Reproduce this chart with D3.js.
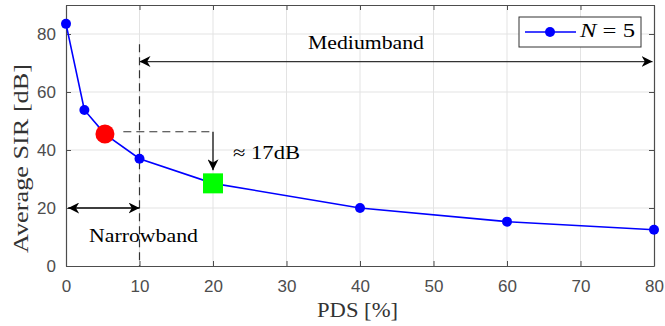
<!DOCTYPE html>
<html>
<head>
<meta charset="utf-8">
<script src="https://cdn.jsdelivr.net/npm/d3@7"></script>
<style>
  body { margin: 0; background: #fff; }
  svg { display: block; }
</style>
</head>
<body>
<svg id="chart" width="665" height="326"></svg>
<script>
const serif = "'Liberation Serif', 'DejaVu Serif', serif";
const sans = "'Liberation Sans', Arial, sans-serif";

// PDS [%] vs average SIR [dB], N = 5
const pds = [0, 2.5, 5.3, 10, 20, 40, 60, 80];
const sir = [83.5, 53.8, 45.5, 37, 28.5, 20, 15.3, 12.5];
const xTicks = [0, 10, 20, 30, 40, 50, 60, 70, 80];
const yTicks = [0, 20, 40, 60, 80];

// highlighted points
const redPoint = [5.3, 45.5];
const greenPoint = [20, 28.5];

const width = 665, height = 326;
const margin = {top: 5, right: 11, bottom: 60, left: 66};
const svg = d3.select("#chart");

const x = d3.scaleLinear().domain([0, 80]).range([margin.left, width - margin.right]);
const y = d3.scaleLinear().domain([0, 90]).range([height - margin.bottom, margin.top]);

const x0 = x(0), x1 = x(80), y0 = y(0), y1 = y(90);

// grid
svg.append("g").selectAll("line.gx")
  .data(xTicks.slice(1, -1))
  .enter().append("line")
  .attr("x1", d => x(d)).attr("x2", d => x(d))
  .attr("y1", y0).attr("y2", y1)
  .attr("stroke", "#e3e3e3").attr("stroke-width", 1);

svg.append("g").selectAll("line.gy")
  .data(yTicks.slice(1))
  .enter().append("line")
  .attr("x1", x0).attr("x2", x1)
  .attr("y1", d => y(d)).attr("y2", d => y(d))
  .attr("stroke", "#e3e3e3").attr("stroke-width", 1);

// axes (ticks inward)
const xAxis = svg.append("g")
  .attr("transform", `translate(0,${y0})`)
  .call(d3.axisBottom(x).tickValues(xTicks).tickSizeInner(-5).tickSizeOuter(0).tickPadding(14));
const xAxisTop = svg.append("g")
  .attr("transform", `translate(0,${y1})`)
  .call(d3.axisTop(x).tickValues(xTicks).tickSizeInner(-5).tickSizeOuter(0).tickFormat(""));
const yAxis = svg.append("g")
  .attr("transform", `translate(${x0},0)`)
  .call(d3.axisLeft(y).tickValues(yTicks).tickSizeInner(-5).tickSizeOuter(0).tickPadding(10));
const yAxisRight = svg.append("g")
  .attr("transform", `translate(${x1},0)`)
  .call(d3.axisRight(y).tickValues(yTicks).tickSizeInner(-5).tickSizeOuter(0).tickFormat(""));

[xAxis, xAxisTop, yAxis, yAxisRight].forEach(g => {
  g.select(".domain").attr("stroke", "#4d4d4d").attr("stroke-width", 1.2);
  g.selectAll(".tick line").attr("stroke", "#4d4d4d");
  g.selectAll(".tick text")
    .attr("font-family", sans)
    .attr("font-size", "17px")
    .attr("fill", "#4d4d4d");
});

// arrowhead marker
const defs = svg.append("defs");
defs.append("marker")
  .attr("id", "arrow")
  .attr("viewBox", "0 0 10 10")
  .attr("refX", 10).attr("refY", 5)
  .attr("markerWidth", 11).attr("markerHeight", 11)
  .attr("markerUnits", "userSpaceOnUse")
  .attr("orient", "auto-start-reverse")
  .append("path")
  .attr("d", "M0,0 L10,5 L0,10 L3,5 Z")
  .attr("fill", "#000");

// annotations: dashed guides
svg.append("line")
  .attr("x1", x(10)).attr("x2", x(10))
  .attr("y1", y(76.5)).attr("y2", y0)
  .attr("stroke", "#333").attr("stroke-width", 1.2)
  .attr("stroke-dasharray", "8,5");

svg.append("line")
  .attr("x1", x(7.8)).attr("x2", x(20))
  .attr("y1", y(46.3)).attr("y2", y(46.3))
  .attr("stroke", "#333").attr("stroke-width", 1.2)
  .attr("stroke-dasharray", "8,5");

// down arrow to the green square
svg.append("line")
  .attr("x1", x(20)).attr("x2", x(20))
  .attr("y1", y(46.3)).attr("y2", y(33))
  .attr("stroke", "#000").attr("stroke-width", 1.2)
  .attr("marker-end", "url(#arrow)");

// mediumband double arrow
svg.append("line")
  .attr("x1", x(10)).attr("x2", x(79.8))
  .attr("y1", y(70.5)).attr("y2", y(70.5))
  .attr("stroke", "#333").attr("stroke-width", 1.3)
  .attr("marker-start", "url(#arrow)")
  .attr("marker-end", "url(#arrow)");

// narrowband double arrow
svg.append("line")
  .attr("x1", x(0.3)).attr("x2", x(10))
  .attr("y1", y(20)).attr("y2", y(20))
  .attr("stroke", "#000").attr("stroke-width", 1.3)
  .attr("marker-start", "url(#arrow)")
  .attr("marker-end", "url(#arrow)");

function label(tx, ty, str, len) {
  return svg.append("text")
    .attr("x", tx).attr("y", ty)
    .attr("font-family", serif).attr("font-size", "19px")
    .attr("fill", "#000")
    .attr("textLength", len)
    .attr("lengthAdjust", "spacingAndGlyphs")
    .text(str);
}

label(308, 49, "Mediumband", 116);
label(89, 242, "Narrowband", 109);
label(233, 159, "≈ 17dB", 67);

// data line
const pts = pds.map((d, i) => [d, sir[i]]);
svg.append("path")
  .datum(pts)
  .attr("fill", "none")
  .attr("stroke", "#0000ff")
  .attr("stroke-width", 1.6)
  .attr("d", d3.line().x(d => x(d[0])).y(d => y(d[1])));

svg.selectAll("circle.pt")
  .data(pts)
  .enter().append("circle")
  .attr("class", "pt")
  .attr("cx", d => x(d[0])).attr("cy", d => y(d[1]))
  .attr("r", 5)
  .attr("fill", "#0000ff");

// highlighted markers
svg.append("circle")
  .attr("cx", x(redPoint[0])).attr("cy", y(redPoint[1]))
  .attr("r", 9.5)
  .attr("fill", "#ff0000");

svg.append("rect")
  .attr("x", x(greenPoint[0]) - 10).attr("y", y(greenPoint[1]) - 10)
  .attr("width", 20).attr("height", 20)
  .attr("fill", "#00ff00");

// axis labels
svg.append("text")
  .attr("x", 317).attr("y", 317)
  .attr("font-family", serif).attr("font-size", "20px")
  .attr("fill", "#333")
  .attr("textLength", 81)
  .attr("lengthAdjust", "spacingAndGlyphs")
  .text("PDS [%]");

svg.append("text")
  .attr("transform", "translate(28,158.5) rotate(-90)")
  .attr("x", -94.5)
  .attr("font-family", serif).attr("font-size", "20px")
  .attr("fill", "#333")
  .attr("textLength", 189)
  .attr("lengthAdjust", "spacingAndGlyphs")
  .text("Average SIR [dB]");

// legend
const legend = svg.append("g").attr("transform", "translate(519,17)");
legend.append("rect")
  .attr("width", 122).attr("height", 30)
  .attr("fill", "#fff").attr("stroke", "#333").attr("stroke-width", 1);
legend.append("line")
  .attr("x1", 6).attr("x2", 57).attr("y1", 15).attr("y2", 15)
  .attr("stroke", "#0000ff").attr("stroke-width", 1.6);
legend.append("circle")
  .attr("cx", 31).attr("cy", 15).attr("r", 5).attr("fill", "#0000ff");
const lt = legend.append("text")
  .attr("x", 61).attr("y", 20)
  .attr("font-family", serif).attr("font-size", "19px")
  .attr("fill", "#000")
  .attr("textLength", 55)
  .attr("lengthAdjust", "spacingAndGlyphs");
lt.append("tspan").attr("font-style", "italic").text("N");
lt.append("tspan").text(" = 5");
</script>
</body>
</html>
